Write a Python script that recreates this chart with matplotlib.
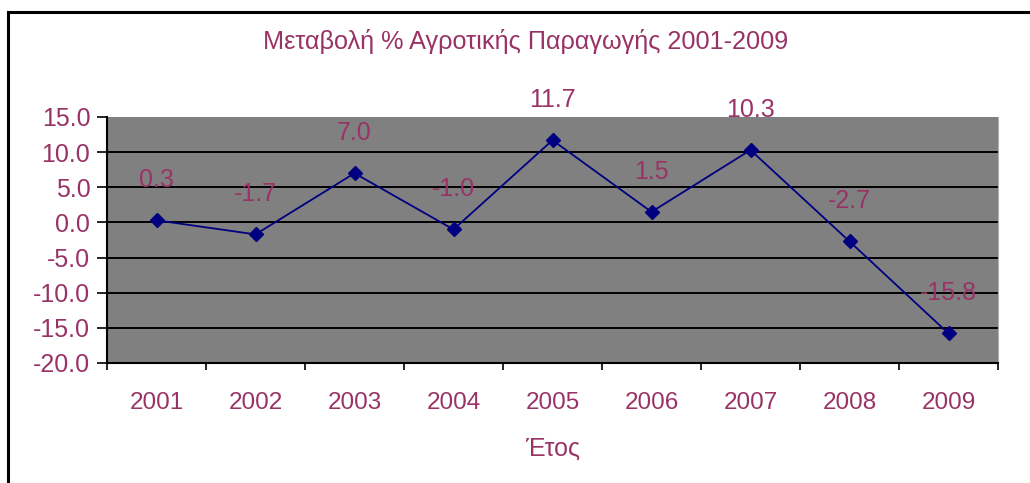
import matplotlib
matplotlib.use('Agg')
import matplotlib.pyplot as plt
from matplotlib.lines import Line2D

# Data
years = ['2001', '2002', '2003', '2004', '2005', '2006', '2007', '2008', '2009']
change = [0.3, -1.7, 7.0, -1.0, 11.7, 1.5, 10.3, -2.7, -15.8]
y_ticks = [-20, -15, -10, -5, 0, 5, 10, 15]

text_color = '#993366'
line_color = '#000080'
plt.rcParams['font.family'] = ['Liberation Sans', 'DejaVu Sans']

W, H = 1030, 483
fig = plt.figure(figsize=(W / 100, H / 100), dpi=100)

# plot area in pixel coords
left, right, top, bottom = 107, 998, 117, 363
ax = fig.add_axes([left / W, (H - bottom) / H, (right - left) / W, (bottom - top) / H])
ax.set_facecolor('#808080')

x = list(range(len(years)))
ax.plot(x, change, color=line_color, lw=1.3, marker='D', markersize=7.5,
        markerfacecolor=line_color, markeredgecolor=line_color, zorder=3)

for xi, v in zip(x, change):
    ax.annotate(f'{v:.1f}', (xi, v), xytext=(0, 29), textcoords='offset points',
                ha='center', va='center', fontsize=18, color=text_color, zorder=4,
                annotation_clip=False)

ax.set_xlim(-0.5, len(years) - 0.5)
ax.set_ylim(-20, 15)
ax.set_yticks(y_ticks)
ax.set_yticklabels([f'{t:.1f}' for t in y_ticks])
for t in y_ticks[1:-1]:
    ax.axhline(t, color='black', lw=1.4, zorder=1)

# categories: labels at centres, ticks at boundaries
ax.set_xticks(x)
ax.set_xticklabels(years)
ax.set_xticks([i - 0.5 for i in range(len(years) + 1)], minor=True)
ax.tick_params(axis='x', which='major', length=0, pad=21, labelsize=17.5, labelcolor=text_color)
ax.tick_params(axis='x', which='minor', length=5, width=1.2, direction='out', color='black')
ax.tick_params(axis='y', length=7, width=1.2, direction='out', pad=5, labelsize=18,
               labelcolor=text_color)

ax.spines['top'].set_visible(False)
ax.spines['right'].set_color('#b0b0b0')
ax.spines['left'].set_linewidth(1.5)
ax.spines['bottom'].set_linewidth(1.5)

ax.set_xlabel('Έτος', fontsize=18, color=text_color, labelpad=16)

fig.text(526 / W, 1 - 42 / H, 'Μεταβολή % Αγροτικής Παραγωγής 2001-2009',
         ha='center', va='center', fontsize=18.2, color=text_color)

# outer chart frame (cropped at right and bottom)
fig.add_artist(Line2D([8 / W, 1], [1 - 12 / H, 1 - 12 / H], transform=fig.transFigure,
                      color='black', lw=2.2))
fig.add_artist(Line2D([8 / W, 8 / W], [0, 1 - 12 / H], transform=fig.transFigure,
                      color='black', lw=2.2))

fig.savefig('out.png', dpi=100)
